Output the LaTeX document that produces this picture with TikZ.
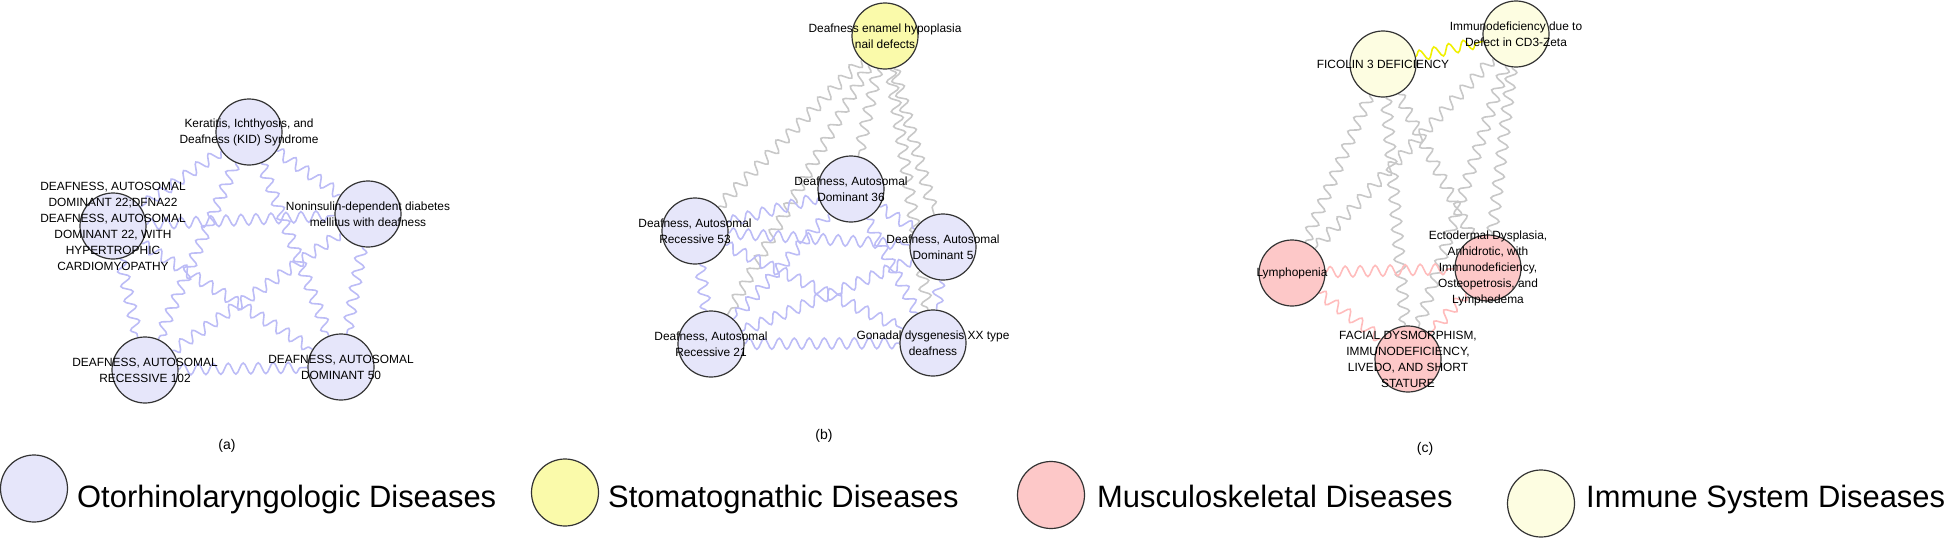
\documentclass[tikz,border=0pt]{standalone}
\usepackage{fontspec}
\setmainfont{Liberation Sans}
\usetikzlibrary{decorations.pathmorphing,backgrounds}
\definecolor{otoF}{HTML}{E6E6FA}
\definecolor{stoF}{HTML}{FAFAAA}
\definecolor{musF}{HTML}{FDC8C8}
\definecolor{immF}{HTML}{FDFDE1}
\definecolor{otoE}{HTML}{BCBCF6}
\definecolor{grayE}{HTML}{C8C8C8}
\definecolor{musE}{HTML}{FFBCBC}
\definecolor{immE}{HTML}{F0F000}
\definecolor{rim}{HTML}{333333}
\tikzset{
  dnode/.style={circle, draw=rim, line width=1.2pt, minimum size=66pt, inner sep=0pt},
  oto/.style={dnode, fill=otoF},
  sto/.style={dnode, fill=stoF},
  mus/.style={dnode, fill=musF},
  imm/.style={dnode, fill=immF},
  lbl/.style={align=center, inner sep=1pt, font=\fontsize{11.9}{16}\selectfont},
  wave/.style={line width=1.6pt, decorate, decoration={snake, amplitude=5.5pt, segment length=15pt}},
  wOto/.style={wave, draw=otoE},
  wGray/.style={wave, draw=grayE},
  wMus/.style={wave, draw=musE},
  wImm/.style={wave, draw=immE},
  panel/.style={font=\fontsize{14}{16}\selectfont},
  legc/.style={circle, draw=rim, line width=1.2pt, minimum size=67pt, inner sep=0pt},
  legt/.style={anchor=base west, inner sep=0pt, font=\fontsize{30.9}{36}\selectfont},
}
\begin{document}
\begin{tikzpicture}[x=1pt,y=-1pt]
\useasboundingbox (0,0) rectangle (1946,538);
% ---------- panel (a)
\node[oto] (kid) at (249,132) {};
\node[oto] (dfna) at (113,226) {};
\node[oto] (nonin) at (368,214) {};
\node[oto] (arA) at (145,370) {};
\node[oto] (adA) at (341,367) {};
\node[lbl] (kidL) at (kid) {Keratitis, Ichthyosis, and\\Deafness (KID) Syndrome};
\node[lbl] (dfnaL) at (dfna) {DEAFNESS, AUTOSOMAL\\DOMINANT 22;DFNA22\\DEAFNESS, AUTOSOMAL\\DOMINANT 22, WITH\\HYPERTROPHIC\\CARDIOMYOPATHY};
\node[lbl] (noninL) at (nonin) {Noninsulin-dependent diabetes\\mellitus with deafness};
\node[lbl] (arAL) at (arA) {DEAFNESS, AUTOSOMAL\\RECESSIVE 102};
\node[lbl] (adAL) at (adA) {DEAFNESS, AUTOSOMAL\\DOMINANT 50};
\node[panel] (pa) at (227,446) {(a)};
% ---------- panel (b)
\node[sto] (en) at (885,36) {};
\node[oto] (ad36) at (851,189) {};
\node[oto] (ar53) at (695,231) {};
\node[oto] (ad5) at (943,247) {};
\node[oto] (ar21) at (711,344) {};
\node[oto] (gon) at (933,343) {};
\node[lbl] (enL) at (en) {Deafness enamel hypoplasia\\nail defects};
\node[lbl] (ad36L) at (ad36) {Deafness, Autosomal\\Dominant 36};
\node[lbl] (ar53L) at (ar53) {Deafness, Autosomal\\Recessive 53};
\node[lbl] (ad5L) at (ad5) {Deafness, Autosomal\\Dominant 5};
\node[lbl] (ar21L) at (ar21) {Deafness, Autosomal\\Recessive 21};
\node[lbl] (gonL) at (gon) {Gonadal dysgenesis XX type\\deafness};
\node[panel] (pb) at (824,436) {(b)};
% ---------- panel (c)
\node[imm] (fic) at (1383,64) {};
\node[imm] (cd3) at (1516,34) {};
\node[mus] (lym) at (1292,273) {};
\node[mus] (ect) at (1488,268) {};
\node[mus] (fac) at (1408,359) {};
\node[lbl] (ficL) at (fic) {FICOLIN 3 DEFICIENCY};
\node[lbl] (cd3L) at (cd3) {Immunodeficiency due to\\Defect in CD3-Zeta};
\node[lbl] (lymL) at (lym) {Lymphopenia};
\node[lbl] (ectL) at (ect) {Ectodermal Dysplasia,\\Anhidrotic, with\\Immunodeficiency,\\Osteopetrosis, and\\Lymphedema};
\node[lbl] (facL) at (fac) {FACIAL DYSMORPHISM,\\IMMUNODEFICIENCY,\\LIVEDO, AND SHORT\\STATURE};
\node[panel] (pc) at (1425,449) {(c)};
% ---------- legend
\node[legc, fill=otoF] (l1) at (34,488.5) {};
\node[legt] (t1) at (77,507) {Otorhinolaryngologic Diseases};
\node[legc, fill=stoF] (l2) at (565,492.5) {};
\node[legt] (t2) at (608,507) {Stomatognathic Diseases};
\node[legc, fill=musF] (l3) at (1051,495) {};
\node[legt] (t3) at (1097,507) {Musculoskeletal Diseases};
\node[legc, fill=immF] (l4) at (1541,503.5) {};
\node[legt] (t4) at (1586,507) {Immune System Diseases};
% ---------- edges
\begin{pgfonlayer}{background}
% (a)
\foreach \u/\v in {kid/dfna, kid/nonin, kid/arA, kid/adA, dfna/nonin, dfna/arA, dfna/adA, nonin/arA, nonin/adA, arA/adA}
  \draw[wOto] (\u) -- (\v);
% (b)
\foreach \v in {ad36, ar53, ad5, ar21, gon}
  \draw[wGray] (en) -- (\v);
\foreach \u/\v in {ad36/ar53, ad36/ad5, ad36/ar21, ad36/gon, ar53/ad5, ar53/ar21, ar53/gon, ad5/ar21, ad5/gon, ar21/gon}
  \draw[wOto] (\u) -- (\v);
% (c)
\foreach \u/\v in {fic/lym, fic/ect, fic/fac, cd3/lym, cd3/ect, cd3/fac}
  \draw[wGray] (\u) -- (\v);
\draw[wImm] (fic) -- (cd3);
\foreach \u/\v in {lym/ect, lym/fac, ect/fac}
  \draw[wMus] (\u) -- (\v);
\end{pgfonlayer}
\end{tikzpicture}
\end{document}
